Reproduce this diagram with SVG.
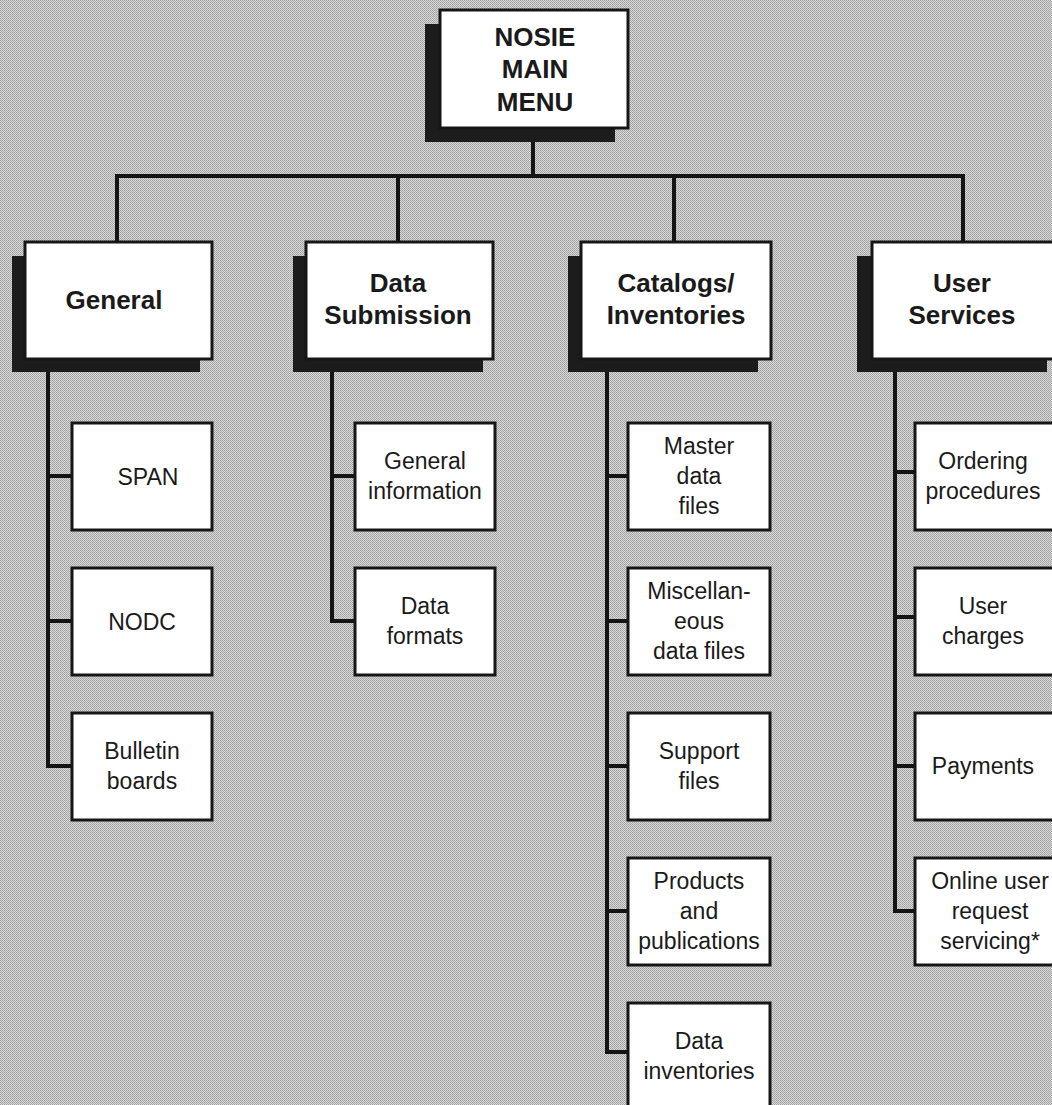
<svg xmlns="http://www.w3.org/2000/svg" width="1052" height="1105" viewBox="0 0 1052 1105">
<defs>
<pattern id="dots" width="2" height="2" patternUnits="userSpaceOnUse">
<rect width="2" height="2" fill="#d8d8d8"/>
<rect width="1" height="1" fill="#a0a0a0"/>
<rect x="1" y="1" width="1" height="1" fill="#aaaaaa"/>
</pattern>
<style>
.box{fill:#ffffff;stroke:#161616;stroke-width:3}
.shadow{fill:#1c1c1c}
.line{fill:none;stroke:#141414;stroke-width:4;stroke-linejoin:miter;stroke-linecap:square}
.h{font-family:"Liberation Sans",Arial,Helvetica,sans-serif;font-weight:bold;font-size:26px;fill:#1a1a1a;text-anchor:middle}
.t{font-family:"Liberation Sans",Arial,Helvetica,sans-serif;font-size:23px;fill:#1a1a1a;text-anchor:middle}
</style>
</defs>
<rect width="1052" height="1105" fill="url(#dots)"/>

<g id="connectors">
<path class="line" d="M533,142 V176"/>
<path class="line" d="M117,240 V176 H963 V240"/>
<path class="line" d="M398,176 V240"/>
<path class="line" d="M674,176 V240"/>
<path class="line" d="M48,372 V766 H72"/>
<path class="line" d="M48,476 H72"/>
<path class="line" d="M48,621 H72"/>
<path class="line" d="M332,372 V621 H355"/>
<path class="line" d="M332,476 H355"/>
<path class="line" d="M607,372 V1052 H628"/>
<path class="line" d="M607,476 H628"/>
<path class="line" d="M607,621 H628"/>
<path class="line" d="M607,766 H628"/>
<path class="line" d="M607,911 H628"/>
<path class="line" d="M895,372 V911 H915"/>
<path class="line" d="M895,472 H915"/>
<path class="line" d="M895,617 H915"/>
<path class="line" d="M895,766 H915"/>
</g>

<g id="main-menu">
<rect class="shadow" x="425" y="24" width="190" height="118"/>
<rect class="box" x="440" y="10" width="188" height="118"/>
<text class="h" x="535" y="46">NOSIE</text>
<text class="h" x="535" y="78">MAIN</text>
<text class="h" x="535" y="111">MENU</text>
</g>

<g id="general">
<rect class="shadow" x="12" y="256" width="188" height="116"/>
<rect class="box" x="25" y="242" width="187" height="117"/>
<text class="h" x="114" y="309">General</text>
</g>

<g id="data-submission">
<rect class="shadow" x="293" y="256" width="190" height="116"/>
<rect class="box" x="306" y="242" width="187" height="117"/>
<text class="h" x="398" y="292">Data</text>
<text class="h" x="398" y="324">Submission</text>
</g>

<g id="catalogs">
<rect class="shadow" x="568" y="256" width="190" height="116"/>
<rect class="box" x="581" y="242" width="190" height="117"/>
<text class="h" x="676" y="292">Catalogs/</text>
<text class="h" x="676" y="324">Inventories</text>
</g>

<g id="user-services">
<rect class="shadow" x="857" y="256" width="190" height="116"/>
<rect class="box" x="872" y="242" width="190" height="117"/>
<text class="h" x="962" y="292">User</text>
<text class="h" x="962" y="324">Services</text>
</g>

<g id="span">
<rect class="box" x="72" y="423" width="140" height="107"/>
<text class="t" x="148" y="485">SPAN</text>
</g>
<g id="nodc">
<rect class="box" x="72" y="568" width="140" height="107"/>
<text class="t" x="142" y="630">NODC</text>
</g>
<g id="bulletin">
<rect class="box" x="72" y="713" width="140" height="107"/>
<text class="t" x="142" y="759">Bulletin</text>
<text class="t" x="142" y="789">boards</text>
</g>

<g id="general-information">
<rect class="box" x="355" y="423" width="140" height="107"/>
<text class="t" x="425" y="469">General</text>
<text class="t" x="425" y="499">information</text>
</g>
<g id="data-formats">
<rect class="box" x="355" y="568" width="140" height="107"/>
<text class="t" x="425" y="614">Data</text>
<text class="t" x="425" y="644">formats</text>
</g>

<g id="master">
<rect class="box" x="628" y="423" width="142" height="107"/>
<text class="t" x="699" y="454">Master</text>
<text class="t" x="699" y="484">data</text>
<text class="t" x="699" y="514">files</text>
</g>
<g id="misc">
<rect class="box" x="628" y="568" width="142" height="107"/>
<text class="t" x="699" y="599">Miscellan-</text>
<text class="t" x="699" y="629">eous</text>
<text class="t" x="699" y="659">data files</text>
</g>
<g id="support">
<rect class="box" x="628" y="713" width="142" height="107"/>
<text class="t" x="699" y="759">Support</text>
<text class="t" x="699" y="789">files</text>
</g>
<g id="products">
<rect class="box" x="628" y="858" width="142" height="107"/>
<text class="t" x="699" y="889">Products</text>
<text class="t" x="699" y="919">and</text>
<text class="t" x="699" y="949">publications</text>
</g>
<g id="data-inventories">
<rect class="box" x="628" y="1003" width="142" height="110"/>
<text class="t" x="699" y="1049">Data</text>
<text class="t" x="699" y="1079">inventories</text>
</g>

<g id="ordering">
<rect class="box" x="915" y="423" width="145" height="107"/>
<text class="t" x="983" y="469">Ordering</text>
<text class="t" x="983" y="499">procedures</text>
</g>
<g id="charges">
<rect class="box" x="915" y="568" width="145" height="107"/>
<text class="t" x="983" y="614">User</text>
<text class="t" x="983" y="644">charges</text>
</g>
<g id="payments">
<rect class="box" x="915" y="713" width="145" height="107"/>
<text class="t" x="983" y="774">Payments</text>
</g>
<g id="online">
<rect class="box" x="915" y="858" width="145" height="107"/>
<text class="t" x="990" y="889">Online user</text>
<text class="t" x="990" y="919">request</text>
<text class="t" x="990" y="949">servicing*</text>
</g>
</svg>
